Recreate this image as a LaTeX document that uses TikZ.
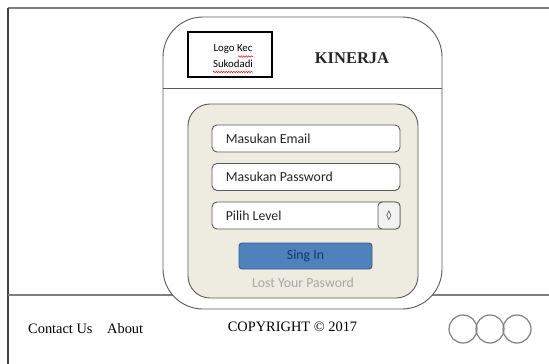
\documentclass[tikz,border=0pt]{standalone}
\usepackage{fontspec}
\setmainfont{Liberation Serif}
\newfontfamily\calfont{Carlito}
\newfontfamily\dvfont{DejaVu Sans}
\usetikzlibrary{decorations.pathmorphing}
\definecolor{framegray}{HTML}{7F7F7F}
\definecolor{boxgray}{HTML}{5A5A5A}
\definecolor{beige}{HTML}{EEECE1}
\definecolor{btnblue}{HTML}{4F81BD}
\definecolor{btnborder}{HTML}{385D8A}
\definecolor{btntext}{HTML}{17375E}
\definecolor{lostgray}{HTML}{A6A6A6}
\tikzset{
  frameline/.style={draw=framegray, line width=1.4pt},
  mainbox/.style={draw=boxgray, line width=0.9pt, fill=white, rounded corners=40pt},
  panel/.style={draw=boxgray, line width=0.9pt, fill=beige, rounded corners=22pt},
  field/.style={draw=boxgray, line width=0.9pt, fill=white, rounded corners=5pt, minimum width=188pt, minimum height=27pt, inner sep=0pt},
  fieldtext/.style={font=\calfont\fontsize{13.8}{16}\selectfont, text=black!85, anchor=west, inner sep=0pt},
  serif/.style={font=\fontsize{14.4}{17}\selectfont, inner sep=0pt},
  squiggle/.style={draw=red, line width=0.5pt, decorate, decoration={snake, amplitude=0.7pt, segment length=2.5pt}},
  ring/.style={draw=framegray, line width=1.2pt, circle, minimum size=28pt, inner sep=0pt},
}
\begin{document}
\begin{tikzpicture}[x=1pt,y=-1pt]
\useasboundingbox (0,0) rectangle (549,364);
% page frame
\coordinate (tr) at (549,8);
\coordinate (tl) at (8,8);
\coordinate (bl) at (8,364);
\coordinate (fl) at (8,295);
\coordinate (fr) at (549,295);
\draw[frameline] (tr) -- (tl);
\draw[draw=black!75, line width=1.4pt] (tl) -- (bl);
\draw[frameline] (fl) -- (fr);
% main box
\draw[mainbox] (163,17) rectangle (442,309);
\coordinate (hl) at (163,88);
\coordinate (hr) at (442,88);
\draw[draw=boxgray, line width=0.9pt] (hl) -- (hr);
% logo
\node[draw=black, line width=2pt, minimum width=84pt, minimum height=45pt, inner sep=0pt] (logo) at (230,54.5) {};
\node[font=\calfont\fontsize{10.8}{12}\selectfont, inner sep=0pt] (logo1) at (233,49) {Logo Kec};
\node[font=\calfont\fontsize{10.8}{12}\selectfont, inner sep=0pt] (logo2) at (233,64) {Sukodadi};
\draw[squiggle] (238,56.5) -- (253,56.5);
\draw[squiggle] (213,72) -- (253,72);
\node[font=\bfseries\fontsize{16.5}{19}\selectfont, text=black!85, inner sep=0pt] (title) at (352,58) {KINERJA};
% login panel
\draw[panel] (188,104) rectangle (418,298);
\node[field] (email) at (306,138.5) {};
\node[fieldtext] (emailt) at ([xshift=14pt]email.west) {Masukan Email};
\node[field] (pass) at (306,177) {};
\node[fieldtext] (passt) at ([xshift=14pt]pass.west) {Masukan Password};
\node[field] (level) at (306,215.5) {};
\node[fieldtext] (levelt) at ([xshift=14pt]level.west) {Pilih Level};
\node[draw=boxgray, line width=0.9pt, fill=black!5, rounded corners=4pt, minimum width=22pt, minimum height=27pt, inner sep=0pt, anchor=east] (drop) at (level.east) {};
\node[font=\dvfont\fontsize{9.5}{10}\selectfont, inner sep=0pt] (dropt) at (drop.center) {◊};
\node[draw=btnborder, line width=0.9pt, fill=btnblue, rounded corners=3pt, minimum width=133pt, minimum height=26pt, inner sep=0pt] (signin) at (305.5,256) {};
\node[font=\calfont\fontsize{13.8}{16}\selectfont, text=btntext, inner sep=0pt] (signt) at (signin.center) {Sing In};
\node[font=\calfont\fontsize{13.8}{16}\selectfont, text=lostgray, inner sep=0pt] (lost) at (303,283) {Lost Your Pasword};
% footer
\node[serif, anchor=west] (contact) at (28,329) {Contact Us};
\node[serif, anchor=west] (about) at (107,329) {About};
\node[serif] (copy) at (292.5,327) {COPYRIGHT © 2017};
\node[ring] (c1) at (463,329) {};
\node[ring] (c2) at (490,329) {};
\node[ring] (c3) at (517,329) {};
\end{tikzpicture}
\end{document}
